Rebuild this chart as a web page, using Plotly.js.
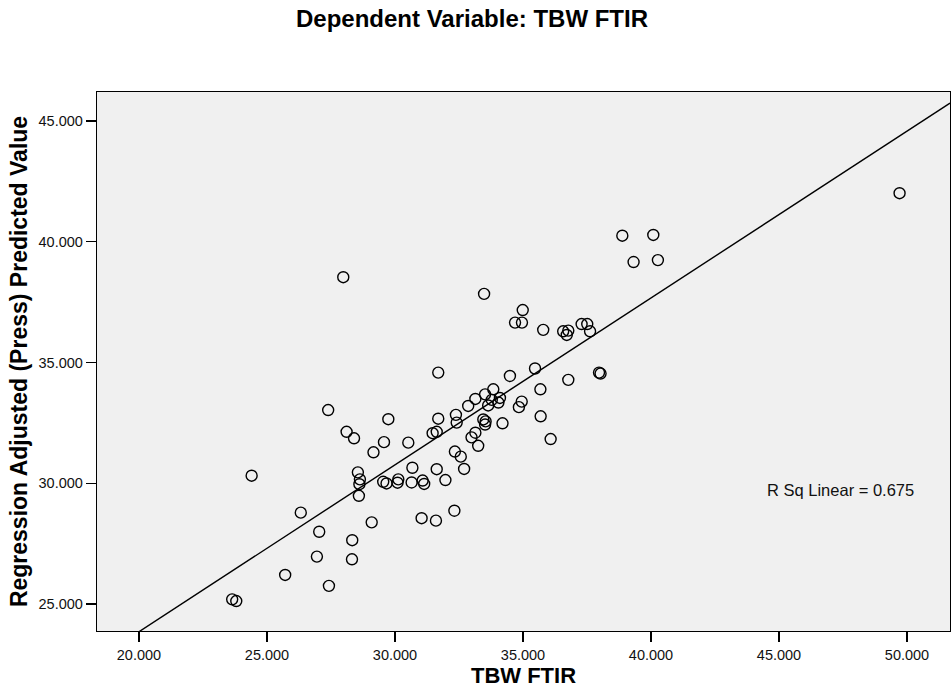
<!DOCTYPE html>
<html>
<head>
<meta charset="utf-8">
<script src="https://cdn.plot.ly/plotly-3.0.1.min.js"></script>
<style>html,body{margin:0;padding:0;background:#fff;}#chart{width:951px;height:697px;}</style>
</head>
<body>
<div id="chart"></div>
<script>
// Observed TBW FTIR (x) and regression adjusted (press) predicted value (y)
const tbwFtir = [
  23.64, 23.80, 24.40, 25.71, 26.32, 26.95, 27.04, 27.42, 27.39, 27.98,
  28.11, 28.40, 28.33, 28.32, 28.55, 28.63, 28.61, 28.59, 29.09, 29.16,
  29.57, 29.74, 29.54, 29.67, 30.10, 30.13, 30.52, 30.68, 30.65, 31.04,
  31.08, 31.14, 31.47, 31.63, 31.63, 31.60, 31.69, 31.69, 31.97, 32.32,
  32.34, 32.38, 32.41, 32.57, 32.70, 32.86, 32.99, 33.14, 33.14, 33.25,
  33.48, 33.52, 33.84, 33.64, 33.78, 34.10, 34.04, 33.45, 33.54, 33.52,
  34.20, 34.49, 34.69, 34.96, 34.99, 34.95, 34.84, 35.47, 35.68, 35.69,
  35.79, 36.08, 36.57, 36.77, 36.71, 36.77, 37.29, 37.51, 37.62, 37.97,
  38.03, 38.88, 40.09, 39.32, 40.27, 49.71
];
const predicted = [
  25.19, 25.12, 30.31, 26.20, 28.78, 26.96, 27.99, 25.75, 33.03, 38.53,
  32.13, 31.86, 27.64, 26.85, 30.45, 30.16, 29.96, 29.48, 28.38, 31.28,
  31.70, 32.65, 30.06, 29.99, 30.02, 30.16, 31.68, 30.64, 30.03, 28.55,
  30.11, 29.97, 32.07, 32.13, 30.58, 28.45, 32.67, 34.58, 30.13, 28.86,
  31.31, 32.83, 32.51, 31.10, 30.59, 33.20, 31.90, 32.09, 33.49, 31.55,
  37.84, 33.68, 33.89, 33.22, 33.45, 33.53, 33.34, 32.64, 32.56, 32.43,
  32.48, 34.44, 36.65, 36.65, 37.17, 33.38, 33.15, 34.75, 33.89, 32.77,
  36.35, 31.83, 36.29, 36.32, 36.14, 34.28, 36.59, 36.59, 36.29, 34.58,
  34.54, 40.25, 40.28, 39.16, 39.24, 42.01
];
// Linear fit line (as drawn) and its R squared
const fitIntercept = 10.03;
const fitSlope = 0.691;
const rSquared = 0.675;
// Axis ticks
const xTickVals = [20, 25, 30, 35, 40, 45, 50];
const yTickVals = [25, 30, 35, 40, 45];
const xRange = [18.36, 51.68];
const yRange = [23.88, 46.2];

const fitX = [xRange[0], xRange[1]];
const fitY = fitX.map(v => fitIntercept + fitSlope * v);

const FONT = 'Liberation Sans, Arial, sans-serif';

const traces = [
  {
    type: 'scatter', mode: 'lines', x: fitX, y: fitY,
    line: {color: '#000', width: 1.4}, hoverinfo: 'skip', showlegend: false
  },
  {
    type: 'scatter', mode: 'markers', x: tbwFtir, y: predicted,
    marker: {symbol: 'circle-open', size: 11, color: '#000', line: {width: 1.4, color: '#000'}},
    showlegend: false
  }
];

const layout = {
  width: 951, height: 697,
  paper_bgcolor: '#ffffff', plot_bgcolor: '#f0f0f0',
  margin: {l: 97, r: 1, t: 92, b: 66, pad: 0},
  font: {family: FONT, color: '#000'},
  title: {text: '<b>Dependent Variable: TBW FTIR</b>', font: {size: 24, family: FONT, color: '#000'},
          x: 472/951, xref: 'container', xanchor: 'center', y: 1 - 19/697, yanchor: 'middle', yref: 'container'},
  xaxis: {
    range: xRange, tickvals: xTickVals, tickformat: '.3f',
    showgrid: false, zeroline: false,
    showline: true, mirror: true, linecolor: '#000', linewidth: 1.2,
    ticks: 'outside', ticklen: 10, tickwidth: 1.2, tickcolor: '#000',
    tickfont: {size: 14.5, family: FONT, color: '#111'},
    title: {text: '<b>TBW FTIR</b>', font: {size: 22, family: FONT, color: '#000'}, standoff: 6}
  },
  yaxis: {
    range: yRange, tickvals: yTickVals, tickformat: '.3f',
    showgrid: false, zeroline: false,
    showline: true, mirror: true, linecolor: '#000', linewidth: 1.2,
    ticks: 'outside', ticklen: 10, tickwidth: 1.2, tickcolor: '#000',
    tickfont: {size: 14.5, family: FONT, color: '#111'},
    title: {text: '<b>Regression Adjusted (Press) Predicted Value</b>', font: {size: 23, family: FONT, color: '#000'}, standoff: 4}
  },
  annotations: [{
    text: 'R Sq Linear = ' + rSquared.toFixed(3),
    xref: 'x', yref: 'y', x: 50.35, y: 29.72, xanchor: 'right', yanchor: 'middle',
    showarrow: false, font: {size: 16.5, family: FONT, color: '#111'}
  }]
};

Plotly.newPlot('chart', traces, layout, {displayModeBar: false, staticPlot: true});
</script>
</body>
</html>
